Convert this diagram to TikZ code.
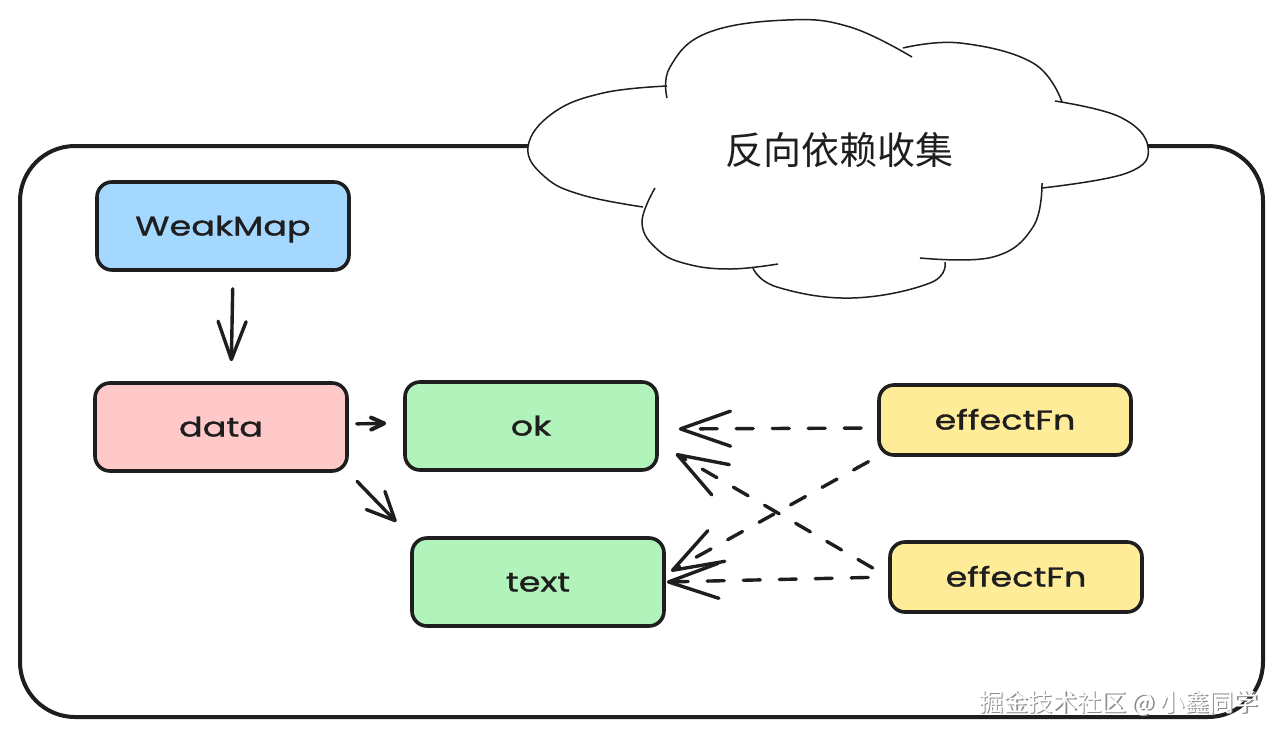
\documentclass[tikz,border=0pt]{standalone}
\usepackage{fontspec}
\usetikzlibrary{arrows.meta}
\newfontfamily\handfont[FakeStretch=1.3,FakeBold=1.2]{Poppins}
\newfontfamily\cjkfont{Noto Sans CJK SC}
\definecolor{ink}{HTML}{1E1E1E}
\definecolor{cblue}{HTML}{A5D8FF}
\definecolor{cpink}{HTML}{FFC9C9}
\definecolor{cgreen}{HTML}{B2F2BB}
\definecolor{cyellow}{HTML}{FFEC99}
\begin{document}
\begin{tikzpicture}[x=1pt,y=-1pt,
  box/.style={draw=ink, line width=3.6pt, rounded corners=15pt, minimum width=252pt,
    minimum height=88pt, inner sep=0pt, font=\handfont\fontsize{27}{27}\selectfont,
    text=ink, text height=19pt, text depth=0pt},
  fnbox/.style={box, fill=cyellow, minimum height=70pt},
  conn/.style={draw=ink, line width=3.4pt, line cap=round},
  dashconn/.style={conn, dash pattern=on 17pt off 19pt},
  tipbig/.style={-{Straight Barb[length=50pt,width=35pt,round]}},
  tipmid/.style={-{Straight Barb[length=38pt,width=28pt,round]}},
  tipdiag/.style={-{Straight Barb[length=28pt,width=26pt,round]}},
  tipsmall/.style={-{Straight Barb[length=13pt,width=12pt,round,line width=4pt]}},
  cloudline/.style={draw=ink, line width=1.5pt},
]
\useasboundingbox (0,0) rectangle (1283,737);
\fill[white] (0,0) rectangle (1283,737);

% outer frame
\draw[ink, line width=4pt, rounded corners=55pt] (20,146) rectangle (1263,717);

% cloud
\fill[white] plot[smooth cycle, tension=0.6] coordinates {
 (667,90) (603,93) (553,113) (528,147) (545,177) (582,195) (644,208) (642,223)
 (687,267) (727,268) (765,266) (777,287) (852,298) (930,283) (935,260) (993,257)
 (1033,227) (1041,185) (1127,173) (1148,147) (1120,117) (1058,101) (1033,63)
 (960,43) (908,52) (850,27) (787,20) (707,33) (670,67)};
\draw[cloudline] plot[smooth, tension=0.7] coordinates {(667,86) (603,93) (553,113) (528,147) (545,177) (582,195) (643,207)};
\draw[cloudline] plot[smooth, tension=0.7] coordinates {(655,188) (642,223) (658,250) (687,264) (730,269) (778,264)};
\draw[cloudline] plot[smooth, tension=0.7] coordinates {(753,268) (777,287) (852,298) (930,283) (945,262)};
\draw[cloudline] plot[smooth, tension=0.7] coordinates {(920,258) (993,257) (1033,227) (1042,183)};
\draw[cloudline] plot[smooth, tension=0.7] coordinates {(1042,188) (1127,173) (1148,147) (1120,117) (1055,101)};
\draw[cloudline] plot[smooth, tension=0.7] coordinates {(1062,102) (1033,63) (960,43) (903,48)};
\draw[cloudline] plot[smooth, tension=0.7] coordinates {(912,57) (850,27) (787,20) (707,33) (670,67) (667,98)};
\node[font=\cjkfont\fontsize{38}{38}\selectfont, text=ink] (title) at (839,150) {反向依赖收集};

% boxes
\node[box, fill=cblue]  (weak) at (223,226) {WeakMap};
\node[box, fill=cpink]  (data) at (221,427) {data};
\node[box, fill=cgreen] (ok)   at (531,426) {ok};
\node[box, fill=cgreen] (text) at (538,582) {text};
\node[fnbox] (e1) at (1005,420) {effectFn};
\node[fnbox] (e2) at (1016,577) {effectFn};

% connectors
\draw[conn, tipmid, shorten <=17pt, shorten >=20pt] ([xshift=10pt]weak.south) -- ([xshift=10pt]data.north);
\draw[conn, tipsmall, shorten <=8pt, shorten >=17pt] ([yshift=3pt]data.east) -- ([yshift=3pt]ok.west);
\draw[conn, tipdiag, shorten <=12pt, shorten >=20pt] (data.south east) -- (text.north west);
\draw[dashconn, tipbig, shorten <=16pt, shorten >=20pt] ([yshift=-8pt]e1.west) -- ([yshift=-3pt]ok.east);
\draw[dashconn, tipbig, shorten <=10pt, shorten >=6pt] (e1.south west) -- ([yshift=8pt]text.east);
\draw[dashconn, tipbig, shorten <=18pt] (e2.west) -- ([xshift=17pt,yshift=18pt]ok.south east);
\draw[dashconn, tipbig, shorten <=20pt, shorten >=1pt] (e2.west) -- (text.east);

% watermark
\node[anchor=east, font=\cjkfont\fontsize{24.5}{24.5}\selectfont, text=black!45] (wms) at (1263.5,704.5) {掘金技术社区 @ 小鑫同学};
\node[anchor=east, font=\cjkfont\fontsize{24.5}{24.5}\selectfont, text=white] (wm) at (1262,703) {掘金技术社区 @ 小鑫同学};
\end{tikzpicture}
\end{document}
